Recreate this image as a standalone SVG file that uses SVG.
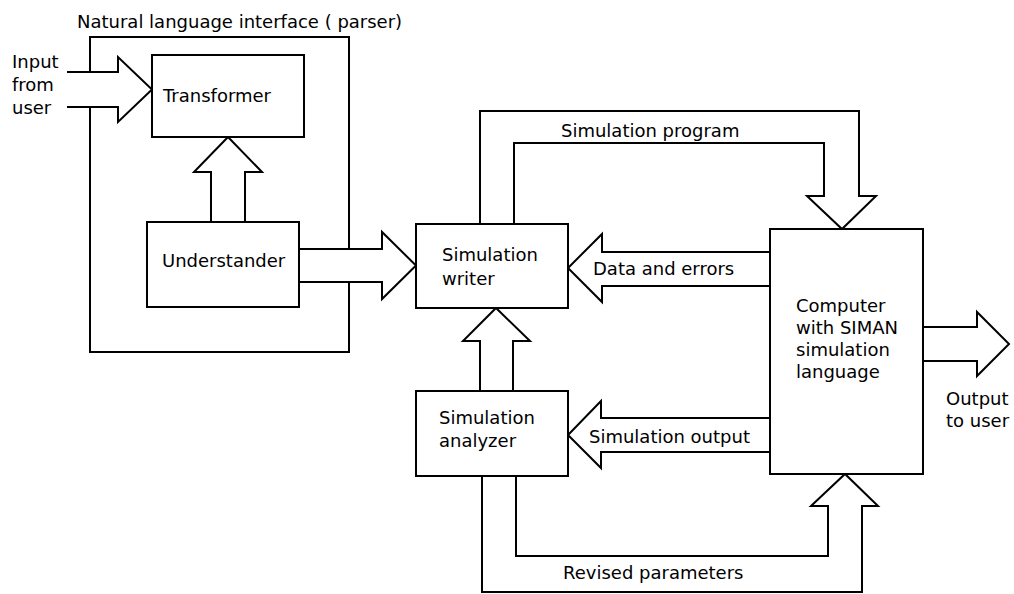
<svg xmlns="http://www.w3.org/2000/svg" width="1014" height="594" viewBox="0 0 1014 594">
<style>
.box{fill:#fff;stroke:#000;stroke-width:2}
.ln{fill:none;stroke:#000;stroke-width:2;stroke-linejoin:miter}
text{font-family:"DejaVu Sans",sans-serif;font-size:18px;fill:#000}
</style>
<rect width="1014" height="594" fill="#fff"/>
<g id="parser-frame">
<path class="ln" d="M90,72 V37 H349 V249 M349,282 V352 H90 V107"/>
<text x="77" y="28">Natural language interface ( parser)</text>
</g>
<g id="connectors">
<path class="ln" d="M67,72 H118 V57 L152,89.5 L118,122 V107 H67"/>
<path class="ln" d="M211,222 V172 H194 L228,137 L262,172 H245 V222"/>
<path class="ln" d="M299,249 H382 V232 L416,265.5 L382,299 V282 H299"/>
<path class="ln" d="M480,224 V111 H859 V196 H876 L842,229 L807,196 H824 V143 H514 V224"/>
<path class="ln" d="M770,252 H602 V234 L568,268 L602,302 V286 H770"/>
<path class="ln" d="M480,391 V341 H463 L496,308 L530,341 H513 V391"/>
<path class="ln" d="M770,418 H601 V401 L568,435 L601,468 V452 H770"/>
<path class="ln" d="M923,327 H977 V312 L1009,344 L977,376 V361 H923"/>
<path class="ln" d="M516,476 V556 H828 V506 H811 L845,474 L878,506 H862 V592 H482 V476"/>
<text x="12" y="68">Input</text>
<text x="12" y="91">from</text>
<text x="12" y="114">user</text>
<text x="561" y="137">Simulation program</text>
<text x="593" y="275">Data and errors</text>
<text x="589" y="443">Simulation output</text>
<text x="563" y="579">Revised parameters</text>
<text x="946" y="405">Output</text>
<text x="946" y="427">to user</text>
</g>
<g id="transformer">
<rect class="box" x="152" y="55" width="152" height="82"/>
<text x="163" y="102">Transformer</text>
</g>
<g id="understander">
<rect class="box" x="147" y="222" width="152" height="85"/>
<text x="162" y="267">Understander</text>
</g>
<g id="simulation-writer">
<rect class="box" x="416" y="224" width="152" height="84"/>
<text x="442" y="261">Simulation</text>
<text x="442" y="285">writer</text>
</g>
<g id="simulation-analyzer">
<rect class="box" x="416" y="391" width="152" height="85"/>
<text x="439" y="424">Simulation</text>
<text x="439" y="447">analyzer</text>
</g>
<g id="computer">
<rect class="box" x="770" y="229" width="153" height="245"/>
<text x="796" y="312">Computer</text>
<text x="796" y="334">with SIMAN</text>
<text x="796" y="356">simulation</text>
<text x="796" y="378">language</text>
</g>
</svg>
